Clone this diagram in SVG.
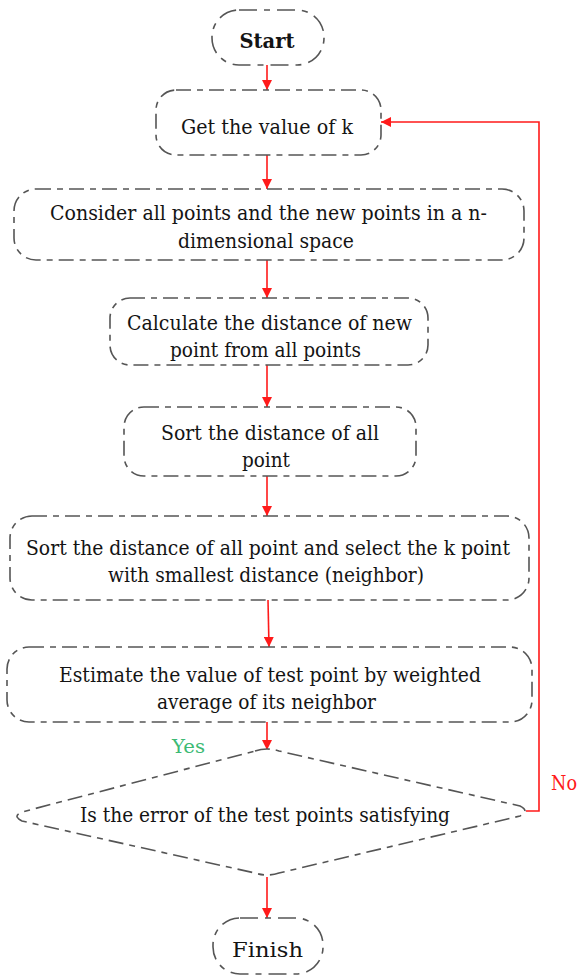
<svg xmlns="http://www.w3.org/2000/svg" width="582" height="977" viewBox="0 0 582 977">
<style>
.node{fill:#fff;stroke:#555;stroke-width:1.6;stroke-dasharray:15 6 6 6}
.term{fill:#fff;stroke:#555;stroke-width:1.6;stroke-dasharray:18 7 6 7}
text{font-family:'DejaVu Serif','Liberation Serif',serif}
.lbl{font-size:21px;fill:#141414;text-anchor:middle}
.conn{fill:none;stroke:#ff1a1a;stroke-width:1.6}
</style>
<defs>
<marker id="ah" viewBox="0 0 10 10" refX="10" refY="5" markerWidth="10" markerHeight="10" markerUnits="userSpaceOnUse" orient="auto">
<path d="M0,0 L10,5 L0,10 Z" fill="#ff1a1a"/>
</marker>
</defs>
<rect width="582" height="977" fill="#fff"/>
<g id="connectors">
<line class="conn" x1="267" y1="65" x2="267" y2="90" marker-end="url(#ah)"/>
<line class="conn" x1="267" y1="155" x2="267" y2="189" marker-end="url(#ah)"/>
<line class="conn" x1="267" y1="260" x2="267" y2="298" marker-end="url(#ah)"/>
<line class="conn" x1="267" y1="365" x2="267" y2="407" marker-end="url(#ah)"/>
<line class="conn" x1="267" y1="476" x2="267" y2="516" marker-end="url(#ah)"/>
<line class="conn" x1="268" y1="600" x2="269" y2="647" marker-end="url(#ah)"/>
<line class="conn" x1="267" y1="722" x2="267" y2="750" marker-end="url(#ah)"/>
<line class="conn" x1="267" y1="877" x2="267" y2="918" marker-end="url(#ah)"/>
<polyline class="conn" points="526,811 539,811 539,122 381,122" marker-end="url(#ah)"/>
<text x="551" y="790" font-size="21" fill="#ff1a1a" textLength="26" lengthAdjust="spacingAndGlyphs">No</text>
<text x="172" y="753" font-size="19" fill="#3dba74" textLength="33" lengthAdjust="spacingAndGlyphs">Yes</text>
</g>
<g id="start">
<rect class="term" x="212" y="10" width="112" height="55" rx="27" ry="27"/>
<text class="lbl" x="267" y="48" font-size="23" font-weight="bold" textLength="55" lengthAdjust="spacingAndGlyphs">Start</text>
</g>
<g id="get-k">
<rect class="node" x="156" y="90" width="225" height="65" rx="20" ry="20"/>
<text class="lbl" x="267" y="134" textLength="172" lengthAdjust="spacingAndGlyphs">Get the value of k</text>
</g>
<g id="consider">
<rect class="node" x="14" y="189" width="510" height="71" rx="22" ry="22"/>
<text class="lbl" x="268.5" y="220" textLength="437" lengthAdjust="spacingAndGlyphs">Consider all points and the new points in a n-</text>
<text class="lbl" x="266" y="248" textLength="176" lengthAdjust="spacingAndGlyphs">dimensional space</text>
</g>
<g id="calculate">
<rect class="node" x="110" y="298" width="318" height="67" rx="20" ry="20"/>
<text class="lbl" x="269.5" y="330" textLength="285" lengthAdjust="spacingAndGlyphs">Calculate the distance of new</text>
<text class="lbl" x="265.5" y="357" textLength="191" lengthAdjust="spacingAndGlyphs">point from all points</text>
</g>
<g id="sort">
<rect class="node" x="124" y="407" width="292" height="69" rx="20" ry="20"/>
<text class="lbl" x="270" y="440" textLength="218" lengthAdjust="spacingAndGlyphs">Sort the distance of all</text>
<text class="lbl" x="266" y="467" textLength="48" lengthAdjust="spacingAndGlyphs">point</text>
</g>
<g id="sort-select">
<rect class="node" x="10" y="516" width="519" height="84" rx="22" ry="22"/>
<text class="lbl" x="268" y="555" textLength="484" lengthAdjust="spacingAndGlyphs">Sort the distance of all point and select the k point</text>
<text class="lbl" x="266" y="582" textLength="316" lengthAdjust="spacingAndGlyphs">with smallest distance (neighbor)</text>
</g>
<g id="estimate">
<rect class="node" x="7" y="647" width="525" height="75" rx="22" ry="22"/>
<text class="lbl" x="270" y="682" textLength="422" lengthAdjust="spacingAndGlyphs">Estimate the value of test point by weighted</text>
<text class="lbl" x="266.5" y="709" textLength="219" lengthAdjust="spacingAndGlyphs">average of its neighbor</text>
</g>
<g id="decision">
<path class="node" d="M255,751 Q267,747 279,751 L520,806 Q530,811 520,816 L279,873 Q267,877 255,873 L22,821 Q12,816 22,812 Z"/>
<text class="lbl" x="265" y="822" textLength="370" lengthAdjust="spacingAndGlyphs">Is the error of the test points satisfying</text>
</g>
<g id="finish">
<rect class="term" x="213" y="918" width="110" height="56" rx="27" ry="27"/>
<text class="lbl" x="267.5" y="957" font-size="24" textLength="71" lengthAdjust="spacingAndGlyphs">Finish</text>
</g>
</svg>
